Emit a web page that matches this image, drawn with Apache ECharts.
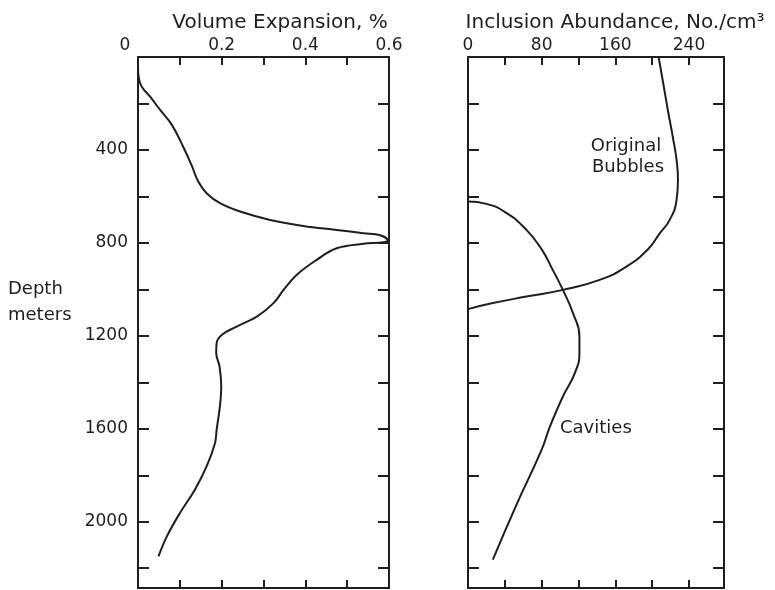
<!DOCTYPE html>
<html>
<head>
<meta charset="utf-8">
<script src="https://cdn.jsdelivr.net/npm/echarts@6/dist/echarts.min.js"></script>
<style>
  html, body { margin: 0; padding: 0; background: #fff; }
  #main { width: 775px; height: 590px; }
</style>
</head>
<body>
<div id="main"></div>
<script>
// volume expansion (%) against depth (m)
const volExpansion = [0.000, 0.002, 0.009, 0.029, 0.053, 0.081, 0.108, 0.128, 0.144, 0.164, 0.196, 0.244, 0.316, 0.395, 0.475, 0.539, 0.579, 0.597, 0.587, 0.539, 0.475, 0.427, 0.379, 0.348, 0.324, 0.284, 0.236, 0.200, 0.188, 0.187, 0.195, 0.199, 0.196, 0.188, 0.184, 0.164, 0.136, 0.100, 0.069, 0.049];
const volDepth = [40, 92, 128, 171, 228, 292, 386, 465, 536, 586, 629, 665, 701, 727, 744, 758, 767, 790, 797, 804, 823, 873, 938, 1002, 1059, 1117, 1160, 1196, 1231, 1274, 1332, 1418, 1500, 1604, 1662, 1762, 1862, 1963, 2063, 2149];

// inclusion abundance (No./cm3) against depth (m)
const bubbleCount = [207, 212, 217, 223, 226.5, 228, 226.5, 219, 208, 196, 172, 143, 103, 63.5, 27, 0];
const bubbleDepth = [0, 113, 228, 357, 443, 529, 615, 701, 760, 825, 902, 959, 1002, 1031, 1059, 1085];
const cavityCount = [0, 20, 42, 63.5, 80, 92, 103, 114, 121, 121, 116, 103, 89, 80, 52.6, 27];
const cavityDepth = [622, 632, 672, 744, 828, 916, 1002, 1102, 1203, 1274, 1360, 1461, 1590, 1690, 1927, 2163];

const depthMax = 2285;
const font = 'DejaVu Sans';
const ink = '#1e1e1e';

const pairs = (xs, ys) => xs.map((x, i) => [x, ys[i]]);

const chart = echarts.init(document.getElementById('main'));

function xAxisPair(grid, max, interval, labelFn) {
    const common = {
        type: 'value', gridIndex: grid, min: 0, max: max, interval: interval,
        splitLine: { show: false },
        axisLine: { show: true, onZero: false, lineStyle: { color: ink, width: 2 } },
        axisTick: { show: true, inside: true, length: 8, lineStyle: { color: ink, width: 2 } }
    };
    return [
        Object.assign({}, common, {
            position: 'top',
            axisLabel: {
                show: true, margin: 3, color: ink, fontFamily: font, fontSize: 17,
                formatter: labelFn,
                rich: { z: { fontFamily: font, fontSize: 17, color: ink, padding: [0, 26, 0, 0] } }
            }
        }),
        Object.assign({}, common, { position: 'bottom', axisLabel: { show: false } })
    ];
}

function yAxisPair(grid, showLabels) {
    const common = {
        type: 'value', gridIndex: grid, min: 0, max: depthMax, interval: 200, inverse: true,
        splitLine: { show: false },
        axisLine: { show: true, onZero: false, lineStyle: { color: ink, width: 2 } },
        axisTick: { show: true, inside: true, length: 11, lineStyle: { color: ink, width: 2 } }
    };
    return [
        Object.assign({}, common, {
            position: 'left',
            axisLabel: {
                show: showLabels, margin: 10, color: ink, fontFamily: font, fontSize: 17,
                formatter: v => (v > 0 && v % 400 === 0) ? String(v) : ''
            }
        }),
        Object.assign({}, common, { position: 'right', axisLabel: { show: false } })
    ];
}

const volLabel = v => {
    const t = Math.round(v * 10);
    if (t === 0) return '{z|0}';
    return t % 2 === 0 ? (t / 10).toFixed(1) : '';
};
const countLabel = v => (v % 80 === 0) ? String(v) : '';

const lineStyle = { color: ink, width: 2 };

const option = {
    animation: false,
    backgroundColor: '#fff',
    grid: [
        { left: 138, top: 57, width: 251, bottom: 2 },
        { left: 468, top: 57, width: 256, bottom: 2 }
    ],
    xAxis: [].concat(xAxisPair(0, 0.6, 0.1, volLabel), xAxisPair(1, 278, 40, countLabel)),
    yAxis: [].concat(yAxisPair(0, true), yAxisPair(1, false)),
    series: [
        {
            name: 'Volume Expansion', type: 'line', xAxisIndex: 0, yAxisIndex: 0,
            data: pairs(volExpansion, volDepth), showSymbol: false,
            smooth: 0.4, lineStyle: lineStyle
        },
        {
            name: 'Original Bubbles', type: 'line', xAxisIndex: 2, yAxisIndex: 2,
            data: pairs(bubbleCount, bubbleDepth), showSymbol: false,
            smooth: 0.5, lineStyle: lineStyle
        },
        {
            name: 'Cavities', type: 'line', xAxisIndex: 2, yAxisIndex: 2,
            data: pairs(cavityCount, cavityDepth), showSymbol: false,
            smooth: 0.5, lineStyle: lineStyle
        }
    ],
    graphic: [
        { type: 'text', x: 280, y: 23, style: { text: 'Volume Expansion, %', fill: ink, font: '20px "DejaVu Sans"', textAlign: 'center', textVerticalAlign: 'middle' } },
        { type: 'text', x: 615, y: 23, style: { text: 'Inclusion Abundance, No./cm³', fill: ink, font: '20px "DejaVu Sans"', textAlign: 'center', textVerticalAlign: 'middle' } },
        { type: 'text', x: 8, y: 289, style: { text: 'Depth', fill: ink, font: '18px "DejaVu Sans"', textAlign: 'left', textVerticalAlign: 'middle' } },
        { type: 'text', x: 8, y: 315, style: { text: 'meters', fill: ink, font: '18px "DejaVu Sans"', textAlign: 'left', textVerticalAlign: 'middle' } },
        { type: 'text', x: 626, y: 146, style: { text: 'Original', fill: ink, font: '18px "DejaVu Sans"', textAlign: 'center', textVerticalAlign: 'middle' } },
        { type: 'text', x: 628, y: 167, style: { text: 'Bubbles', fill: ink, font: '18px "DejaVu Sans"', textAlign: 'center', textVerticalAlign: 'middle' } },
        { type: 'text', x: 560, y: 428, style: { text: 'Cavities', fill: ink, font: '18px "DejaVu Sans"', textAlign: 'left', textVerticalAlign: 'middle' } }
    ]
};

chart.setOption(option);
</script>
</body>
</html>
